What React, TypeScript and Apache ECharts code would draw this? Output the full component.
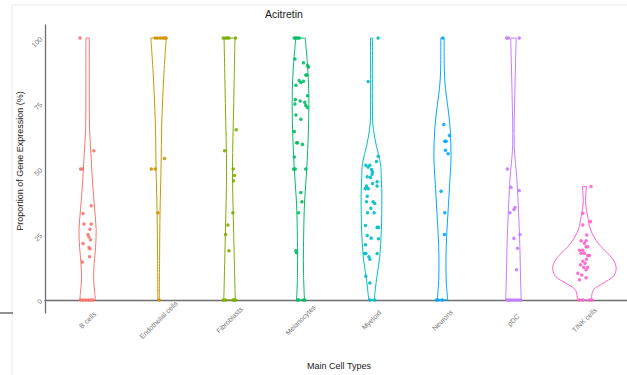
import React, { useEffect, useRef } from "react";
import * as echarts from "echarts";

const categories = ["B cells", "Endothelial cells", "Fibroblasts", "Melanocytes", "Myeloid", "Neurons", "pDC", "T/NK cells"];
const palette = ["#F8766D", "#CD9600", "#7CAE00", "#00BE67", "#00BFC4", "#00A9FF", "#C77CFF", "#FF61CC"];
const yTicks = [0, 25, 50, 75, 100];

// points: [value, horizontal jitter in category units]
const bCellsPoints = [
  [100, -0.107], [57, 0.088], [50, -0.098], [50, -0.074], [36, 0.051], [33, -0.065], [29, -0.051], [29, 0.051],
  [27, 0.033], [25, 0.005], [24, 0.019], [23, 0.042], [21.5, -0.065], [20, 0.019], [19.5, 0.033], [16.5, 0.028],
  [14.5, -0.074], [0, -0.098], [0, -0.065], [0, -0.028], [0, 0.009], [0, 0.042], [0, 0.074],
];
const endothelialPoints = [
  [100, -0.047], [100, -0.014], [100, 0.023], [100, 0.056], [100, 0.084], [100, 0.107],
  [54, 0.084], [50, -0.102], [50, -0.047], [33.3, -0.009], [0, 0.009],
];
const fibroblastsPoints = [
  [100, -0.088], [100, -0.056], [100, -0.033], [100, -0.009], [100, 0.084], [65, 0.093], [57, -0.07], [50, 0.051],
  [47.5, 0.07], [45.5, 0.056], [33.3, 0.047], [28.6, -0.023], [25, -0.056], [18.8, -0.009],
  [0, -0.088], [0, -0.056], [0, 0.051], [0, 0.07], [0, 0.084],
];
const melanocytesPoints = [
  [100, -0.088], [100, -0.065], [100, -0.042], [100, -0.019], [92, -0.079], [90.6, 0.042], [89.5, 0.098], [89, 0.112],
  [85.9, 0.074], [85.9, 0.088], [83.8, -0.019], [83.5, 0.042], [83, 0.005], [82, -0.065], [78, 0.098], [76.5, -0.074],
  [76, -0.005], [75.5, 0.06], [74.8, -0.079], [74.3, 0.074], [73.5, 0.098], [70.6, -0.065], [69, 0.005], [64.3, -0.088],
  [60, -0.056], [60, -0.042], [59.4, 0.028], [54.6, -0.088], [50, -0.098], [50, -0.074], [50, 0.074], [41, 0.005],
  [37.5, 0.019], [33.3, -0.028], [18.8, -0.065], [18, -0.056], [0, -0.042], [0, -0.028], [0, 0.042], [0, 0.06],
];
const myeloidPoints = [
  [100, 0.093], [83.4, -0.047], [54.9, 0.093], [52.9, 0.07], [51.4, -0.079], [50.8, -0.047], [51.4, -0.023],
  [49.8, 0], [48.9, 0.014], [48, 0.009], [47, -0.06], [46.8, -0.014], [45.1, 0.079], [44.5, 0.014], [43.5, -0.07],
  [43.5, 0.079], [42.5, -0.088], [42.5, -0.047], [39.6, -0.06], [37.5, 0.023], [37.5, -0.07], [36.8, 0.047],
  [35, -0.009], [33.3, -0.056], [33.3, 0.037], [28.4, -0.084], [27.7, 0.079], [27.7, 0.098], [24.6, -0.06],
  [23.6, -0.005], [23.4, 0.098], [21.1, -0.084], [17.7, -0.098], [17.7, -0.079], [17.7, 0.079], [16.5, -0.037],
  [15.5, -0.023], [9, -0.079], [6.5, -0.023], [0, -0.023], [0, 0.047],
];
const neuronsPoints = [
  [100, 0.005], [67, 0.019], [62.8, 0.098], [60.6, 0.033], [60.6, 0.051], [57.2, 0.042], [55.8, 0.079],
  [41.5, -0.019], [33.3, 0.033], [25, 0.028], [0, -0.084], [0, -0.06], [0, -0.005],
];
const pdcPoints = [
  [100, -0.095], [100, -0.072], [100, 0.081], [50, -0.086], [43, -0.035], [41.8, 0.081], [35.3, 0.021], [34.5, 0.007],
  [33.3, -0.049], [25, 0.091], [23.5, 0.007], [19.7, 0.058], [11.5, 0.044],
  [0, -0.095], [0, -0.063], [0, -0.035], [0, -0.002], [0, 0.03], [0, 0.067], [0, 0.1],
];
const tnkPoints = [
  [43.3, 0.093], [33.1, -0.023], [29.9, 0.084], [28.6, -0.023], [24.8, 0.033], [22.6, -0.047], [22.6, 0.023],
  [21.6, 0], [20.3, 0.023], [20.3, 0.047], [19, -0.07], [19, -0.023], [17.8, -0.047], [17.8, 0], [17, 0.047],
  [17, 0.07], [15.5, 0.028], [14.8, -0.023], [14, 0.009], [13.4, -0.056], [12.5, -0.009], [12.5, 0.047],
  [11.5, 0.023], [10.2, -0.093], [9.5, -0.037], [8.5, 0.023], [7.7, -0.07],
  [0, -0.07], [0, -0.023], [0, 0.07], [0, 0.102],
];
const pointsByCategory = [bCellsPoints, endothelialPoints, fibroblastsPoints, melanocytesPoints, myeloidPoints, neuronsPoints, pdcPoints, tnkPoints];

// violin outlines: [value, half width in category units], bottom to top
const bCellsViolin = [[0, 0.11], [3, 0.1], [8, 0.085], [14, 0.093], [20, 0.112], [27, 0.121], [35, 0.098], [45, 0.07], [55, 0.049], [65, 0.028], [80, 0.024], [100, 0.024]];
const endothelialViolin = [[0, 0.01], [15, 0.014], [34, 0.021], [50, 0.035], [68, 0.046], [87, 0.077], [100, 0.109]];
const fibroblastsViolin = [[0, 0.081], [25, 0.059], [50, 0.042], [75, 0.059], [100, 0.077]];
const melanocytesViolin = [[0, 0.056], [10, 0.042], [20, 0.042], [34, 0.052], [40, 0.063], [50, 0.088], [60, 0.105], [70, 0.116], [80, 0.116], [90, 0.098], [100, 0.066]];
const myeloidViolin = [[0, 0.038], [7.6, 0.07], [16.5, 0.116], [26.7, 0.139], [39.4, 0.146], [45.8, 0.139], [52.2, 0.126], [58.7, 0.07], [65, 0.028], [70, 0.014], [100, 0.014]];
const neuronsViolin = [[0, 0.074], [8, 0.052], [20, 0.053], [33, 0.077], [46, 0.105], [55, 0.121], [65, 0.109], [71, 0.088], [84, 0.032], [100, 0.024]];
const pdcViolin = [[0, 0.109], [8, 0.1], [20, 0.091], [33, 0.073], [46, 0.049], [59, 0.011], [77, 0.018], [100, 0.039]];
const tnkViolin = [[0, 0.1], [3.8, 0.126], [6.4, 0.265], [8.9, 0.404], [11.5, 0.446], [14, 0.432], [16.5, 0.372], [21.6, 0.195], [26.7, 0.088], [32, 0.046], [37, 0.017], [43.3, 0.028]];
const violinsByCategory = [bCellsViolin, endothelialViolin, fibroblastsViolin, melanocytesViolin, myeloidViolin, neuronsViolin, pdcViolin, tnkViolin];

const FONT = "Liberation Sans, Arial, sans-serif";

export default function App() {
  const ref = useRef<HTMLDivElement>(null);
  useEffect(() => {
    if (!ref.current) return;
    const chart = echarts.init(ref.current, null, { renderer: "svg" });
    const xPositions = categories.map((_, i) => i + 1);

    const violinSeries = {
      type: "custom",
      coordinateSystem: "cartesian2d",
      encode: { x: 0, y: 1 },
      data: xPositions.map((x) => [x, 0]),
      silent: true,
      z: 2,
      renderItem: (params: any, api: any) => {
        const i = params.dataIndex;
        const prof = violinsByCategory[i];
        const cx = i + 1;
        const right = prof.map(([v, w]) => api.coord([cx + w, v]));
        const left = prof.map(([v, w]) => api.coord([cx - w, v]));
        const style = { fill: "none", stroke: palette[i], lineWidth: 1 };
        const n = prof.length - 1;
        return {
          type: "group",
          children: [
            { type: "polyline", shape: { points: right, smooth: 0.35 }, style },
            { type: "polyline", shape: { points: left, smooth: 0.35 }, style },
            { type: "line", shape: { x1: left[0][0], y1: left[0][1], x2: right[0][0], y2: right[0][1] }, style },
            { type: "line", shape: { x1: left[n][0], y1: left[n][1], x2: right[n][0], y2: right[n][1] }, style },
          ],
        };
      },
    };

    const scatterSeries = pointsByCategory.map((pts, i) => ({
      type: "scatter",
      data: pts.map(([v, j]) => [i + 1 + j, v]),
      symbolSize: 3.5,
      itemStyle: { color: palette[i], opacity: 0.9 },
      z: 3,
      silent: true,
    }));

    chart.setOption({
      animation: false,
      backgroundColor: "#ffffff",
      grid: { left: 45, top: 25, right: -6, bottom: 62, containLabel: false },
      xAxis: {
        type: "value",
        min: 0.4,
        max: 8.6,
        splitLine: { show: false },
        axisLine: { show: true, lineStyle: { color: "#6e6e6e", width: 1.3 } },
        axisTick: { show: false },
        axisLabel: {
          customValues: xPositions,
          formatter: (v: number) => categories[Math.round(v) - 1] ?? "",
          rotate: 45,
          align: "center",
          verticalAlign: "middle",
          margin: 7,
          fontSize: 7,
          color: "#777777",
          fontFamily: FONT,
        },
      },
      yAxis: {
        type: "value",
        min: -5,
        max: 105,
        splitLine: { show: false },
        axisLine: { show: true, lineStyle: { color: "#6e6e6e", width: 1.3 } },
        axisTick: { show: false },
        axisLabel: {
          customValues: yTicks,
          rotate: 45,
          margin: 4,
          fontSize: 7,
          color: "#777777",
          fontFamily: FONT,
        },
      },
      graphic: [
        { type: "line", shape: { x1: 12, y1: 5, x2: 627, y2: 5 }, style: { stroke: "#ececec", lineWidth: 1 }, silent: true },
        { type: "line", shape: { x1: 12, y1: 5, x2: 12, y2: 375 }, style: { stroke: "#ececec", lineWidth: 1 }, silent: true },
        { type: "line", shape: { x1: 0, y1: 313, x2: 13, y2: 313 }, style: { stroke: "#555", lineWidth: 1.3 }, silent: true },
        {
          type: "text", left: 265, top: 8, silent: true,
          style: { text: "Acitretin", fontSize: 10.5, fill: "#1a1a1a", fontFamily: FONT },
        },
        {
          type: "text", x: 339, y: 366, silent: true,
          style: { text: "Main Cell Types", fontSize: 9, fill: "#1a1a1a", fontFamily: FONT, align: "center", verticalAlign: "middle" },
        },
        {
          type: "text", x: 20, y: 161, rotation: Math.PI / 2, silent: true,
          style: { text: "Proportion of Gene Expression (%)", fontSize: 9, fill: "#1a1a1a", fontFamily: FONT, align: "center", verticalAlign: "middle" },
        },
      ],
      series: [violinSeries, ...scatterSeries],
    });
    return () => chart.dispose();
  }, []);
  return <div ref={ref} style={{ position: "fixed", left: 0, top: 0, width: 627, height: 375 }} />;
}
